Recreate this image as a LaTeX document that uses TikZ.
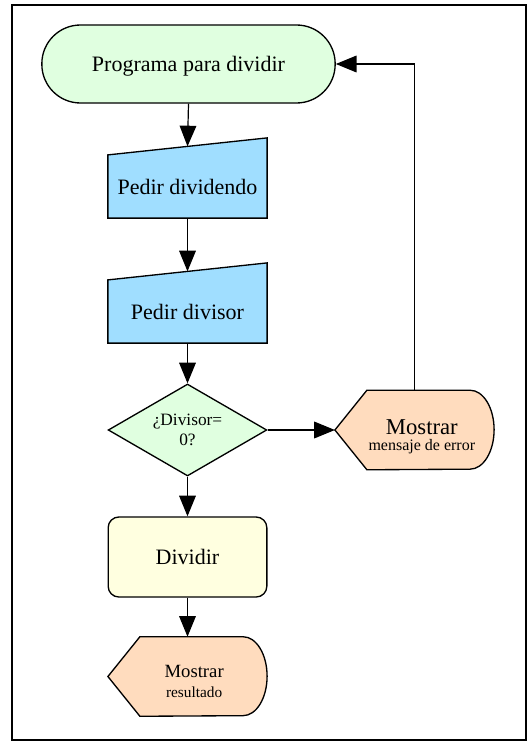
\documentclass[tikz,border=0pt]{standalone}
\usepackage{fontspec}
\setmainfont{Liberation Serif}
\usetikzlibrary{shapes.geometric,arrows.meta,backgrounds}
\definecolor{mygreen}{RGB}{224,255,224}
\definecolor{myblue}{RGB}{160,222,255}
\definecolor{mypeach}{RGB}{255,220,190}
\definecolor{myyellow}{RGB}{255,255,224}

% outline of a "Mostrar" box around a node
\newcommand{\formamostrar}[1]{%
  \draw[forma,fill=mypeach] (#1.west) -- ([xshift=24pt]#1.north west)
    -- ([xshift=-18pt]#1.north east)
    arc[start angle=90,end angle=-90,x radius=18pt,y radius=29.6pt]
    -- ([xshift=24pt]#1.south west) -- cycle;}

\begin{document}
\begin{tikzpicture}[x=0.75pt,y=-0.75pt,font=\fontsize{16.5}{19}\selectfont,
  forma/.style={line width=1pt},
  flecha/.style={-{Triangle[length=15.5pt,width=12.5pt]},line width=0.9pt},
  inicio/.style={forma,draw,fill=mygreen,rounded corners=29pt,text depth=0pt,
    minimum width=220pt,minimum height=58.5pt},
  caja/.style={minimum width=119pt,minimum height=47pt,inner sep=0pt},
  mostrar/.style={minimum width=119pt,minimum height=59.25pt,inner sep=0pt,
    align=center,text depth=2pt},
  decision/.style={forma,draw,diamond,aspect=1.7,fill=mygreen,minimum width=119pt,
    minimum height=69pt,inner sep=0pt,align=center,font=\fontsize{13}{15}\selectfont},
  proceso/.style={forma,draw,fill=myyellow,rounded corners=8pt,
    minimum width=119pt,minimum height=60pt}]

  % frame
  \draw[line width=1.4pt] (12,5) rectangle (526,740);
  \useasboundingbox (0,0) rectangle (528,742);

  \node[inicio] (inicio) at (188.5,64) {Programa para dividir};
  \node[caja] (dividendo) at (187.5,186.5) {Pedir dividendo};
  \node[caja] (divisor) at (187.5,311.5) {Pedir divisor};
  \node[decision] (cero) at (187.5,430) {¿Divisor=\\0?};
  \node[mostrar,font=\fontsize{17}{20}\selectfont,text height=32pt] (error) at (414.5,430)
    {\hspace*{11pt}Mostrar\\[-8.5pt]{\fontsize{12}{14}\selectfont\hspace*{11pt}mensaje de error}};
  \node[proceso] (dividir) at (187.5,557) {Dividir};
  \node[mostrar,font=\fontsize{14}{16}\selectfont,text height=32.8pt] (resultado) at (187.5,676.5)
    {\hspace*{10pt}Mostrar\\[-1pt]{\fontsize{11.5}{13}\selectfont\hspace*{10pt}resultado}};

  % shapes behind the texts
  \begin{scope}[on background layer]
    \draw[forma,fill=myblue] (dividendo.south west) -- (dividendo.south east)
      -- ([yshift=12.75pt]dividendo.north east) -- (dividendo.north west) -- cycle;
    \draw[forma,fill=myblue] (divisor.south west) -- (divisor.south east)
      -- ([yshift=12.75pt]divisor.north east) -- (divisor.north west) -- cycle;
    \formamostrar{error}
    \formamostrar{resultado}
  \end{scope}

  % main flow
  \draw[flecha] (inicio.south) -- ([yshift=6.4pt]dividendo.north);
  \draw[flecha] (dividendo.south) -- ([yshift=6.4pt]divisor.north);
  \draw[flecha] (divisor.south) -- (cero.north);
  \draw[flecha] (cero.east) -- (error.west);
  \draw[flecha] (cero.south) -- (dividir.north);
  \draw[flecha] (dividir.south) -- (resultado.north);

  % back to the start
  \draw[flecha] (error.north) |- (inicio.east);

\end{tikzpicture}
\end{document}
